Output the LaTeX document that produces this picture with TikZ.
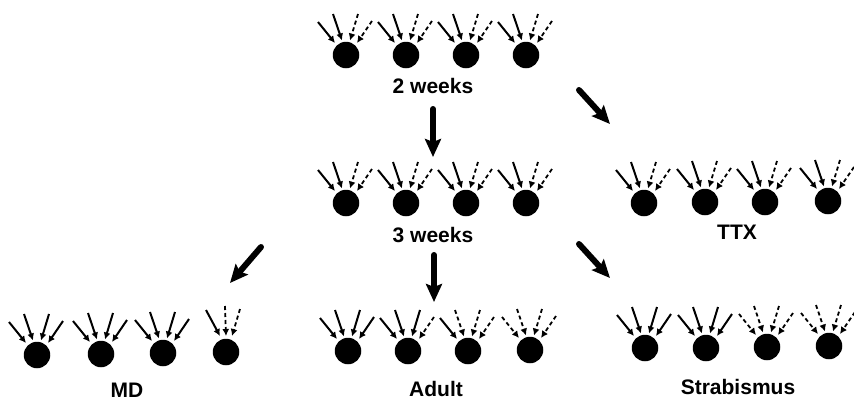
\documentclass[tikz,border=0pt]{standalone}
\usepackage{fontspec}
\setmainfont{Liberation Sans}
\usetikzlibrary{arrows.meta}

\tikzset{
  cellbody/.style={circle, fill=black, minimum size=26.5pt, inner sep=0pt},
  synsolid/.style={-{Latex[length=7pt,width=7pt]}, line width=2pt},
  syndash/.style={-{Latex[length=7pt,width=7pt]}, line width=1.8pt, dash pattern=on 4pt off 3pt},
  bigarrow/.style={-{Stealth[length=18pt,width=16pt,inset=3pt]}, line width=6pt, line cap=round},
  agelabel/.style={font=\fontsize{21}{22}\selectfont\bfseries},
}

% one cell with its four inputs, outer left to outer right
\newcommand{\synapsecell}[7]{
  \node[cellbody] (#1) at (#2,#3) {};
  \draw[#4] ([shift={(-28,-33)}]#1.center) -- ([shift={(-11,-12)}]#1.center);
  \draw[#5] ([shift={(-13,-41)}]#1.center) -- ([shift={(-4,-14.5)}]#1.center);
  \draw[#6] ([shift={(12,-41)}]#1.center) -- ([shift={(4,-14.5)}]#1.center);
  \draw[#7] ([shift={(26,-34)}]#1.center) -- ([shift={(11,-12)}]#1.center);
}

\begin{document}
\begin{tikzpicture}[x=1pt, y=-1pt]
  \useasboundingbox (0,0) rectangle (854,400);

  % 2 weeks
  \synapsecell{twoA}{346}{55}{synsolid}{synsolid}{syndash}{syndash}
  \synapsecell{twoB}{406}{55}{synsolid}{synsolid}{syndash}{syndash}
  \synapsecell{twoC}{466}{55}{synsolid}{synsolid}{syndash}{syndash}
  \synapsecell{twoD}{526}{55}{synsolid}{synsolid}{syndash}{syndash}
  \node[agelabel] (twoweeks) at (433,86) {2 weeks};

  % 3 weeks
  \synapsecell{threeA}{346}{203}{synsolid}{synsolid}{syndash}{syndash}
  \synapsecell{threeB}{406}{203}{synsolid}{synsolid}{syndash}{syndash}
  \synapsecell{threeC}{466}{203}{synsolid}{synsolid}{syndash}{syndash}
  \synapsecell{threeD}{526}{203}{synsolid}{synsolid}{syndash}{syndash}
  \node[agelabel] (threeweeks) at (433,235) {3 weeks};

  % TTX
  \synapsecell{ttxA}{644}{203}{synsolid}{synsolid}{syndash}{syndash}
  \synapsecell{ttxB}{705}{202}{synsolid}{synsolid}{syndash}{syndash}
  \synapsecell{ttxC}{765}{202}{synsolid}{synsolid}{syndash}{syndash}
  \synapsecell{ttxD}{828}{201}{synsolid}{synsolid}{syndash}{syndash}
  \node[agelabel] (ttx) at (737,232) {TTX};

  % MD, last cell has three inputs only
  \synapsecell{mdA}{37}{355}{synsolid}{synsolid}{synsolid}{synsolid}
  \synapsecell{mdB}{101}{354}{synsolid}{synsolid}{synsolid}{synsolid}
  \synapsecell{mdC}{163}{353}{synsolid}{synsolid}{synsolid}{synsolid}
  \node[cellbody] (mdD) at (226,352) {};
  \draw[synsolid] ([shift={(-20,-42)}]mdD.center) -- ([shift={(-6,-16)}]mdD.center);
  \draw[syndash] ([shift={(-1,-46)}]mdD.center) -- ([shift={(0,-16)}]mdD.center);
  \draw[syndash] ([shift={(14,-43)}]mdD.center) -- ([shift={(6,-16)}]mdD.center);
  \node[agelabel] (md) at (127,390) {MD};

  % Adult
  \synapsecell{adultA}{348}{351}{synsolid}{synsolid}{synsolid}{synsolid}
  \synapsecell{adultB}{408}{351}{synsolid}{synsolid}{synsolid}{syndash}
  \synapsecell{adultC}{468}{351}{synsolid}{syndash}{syndash}{syndash}
  \synapsecell{adultD}{530}{350}{syndash}{syndash}{syndash}{syndash}
  \node[agelabel] (adult) at (436,389) {Adult};

  % Strabismus
  \synapsecell{strabA}{645}{348}{synsolid}{synsolid}{synsolid}{synsolid}
  \synapsecell{strabB}{706}{348}{synsolid}{synsolid}{synsolid}{synsolid}
  \synapsecell{strabC}{767}{347}{syndash}{syndash}{syndash}{syndash}
  \synapsecell{strabD}{829}{346}{syndash}{syndash}{syndash}{syndash}
  \node[agelabel] (strab) at (738,387) {Strabismus};

  % arrows between stages
  \coordinate (twoDown) at (433,109);
  \coordinate (threeTop) at (433,157);
  \coordinate (twoRight) at (579,90);
  \coordinate (ttxTop) at (610,124);
  \coordinate (threeDown) at (434,255);
  \coordinate (adultTop) at (434,302);
  \coordinate (threeRight) at (579,244);
  \coordinate (strabTop) at (610,278);
  \coordinate (threeLeft) at (261,247);
  \coordinate (mdTop) at (230,283);
  \draw[bigarrow] (twoDown) -- (threeTop);
  \draw[bigarrow] (twoRight) -- (ttxTop);
  \draw[bigarrow] (threeDown) -- (adultTop);
  \draw[bigarrow] (threeRight) -- (strabTop);
  \draw[bigarrow] (threeLeft) -- (mdTop);
\end{tikzpicture}
\end{document}
